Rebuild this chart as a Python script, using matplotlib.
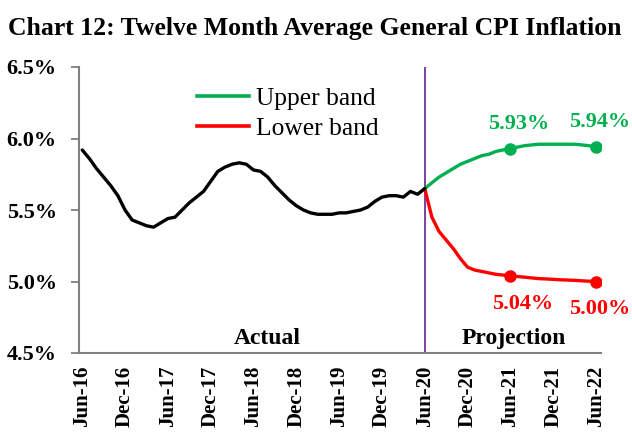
import matplotlib
matplotlib.use("Agg")
import matplotlib.pyplot as plt
from matplotlib.lines import Line2D

# ---- data ----
tick_labels = ["Jun-16", "Dec-16", "Jun-17", "Dec-17", "Jun-18", "Dec-18",
               "Jun-19", "Dec-19", "Jun-20", "Dec-20", "Jun-21", "Dec-21", "Jun-22"]

# monthly actual, Jun-16 .. Jun-20 (49 months)
actual = [5.92, 5.86, 5.79, 5.73, 5.67, 5.60, 5.50, 5.43, 5.41, 5.39,
          5.38, 5.41, 5.44, 5.45, 5.50, 5.55, 5.59, 5.63, 5.70, 5.77,
          5.80, 5.82, 5.83, 5.82, 5.78, 5.77, 5.73, 5.67, 5.62, 5.57,
          5.53, 5.50, 5.48, 5.47, 5.47, 5.47, 5.48, 5.48, 5.49, 5.50,
          5.52, 5.56, 5.59, 5.60, 5.60, 5.59, 5.63, 5.61, 5.65]

# monthly projections, Jun-20 .. Jun-22 (25 months)
upper = [5.65, 5.69, 5.73, 5.76, 5.79, 5.82, 5.84, 5.86, 5.88, 5.89,
         5.91, 5.92, 5.93, 5.94, 5.95, 5.955, 5.96, 5.96, 5.96, 5.96,
         5.96, 5.96, 5.955, 5.95, 5.94]
lower = [5.65, 5.45, 5.35, 5.29, 5.23, 5.16, 5.10, 5.08, 5.07, 5.06,
         5.05, 5.045, 5.04, 5.035, 5.03, 5.025, 5.02, 5.018, 5.015, 5.012,
         5.01, 5.008, 5.005, 5.002, 5.00]

marker_months = [12, 24]          # offsets within projection (Jun-21, Jun-22)
upper_labels = ["5.93%", "5.94%"]
lower_labels = ["5.04%", "5.00%"]

GREEN = "#00B050"
RED = "#FF0000"
PURPLE = "#7030A0"
GREY = "#808080"

plt.rcParams["font.family"] = ["Liberation Serif", "DejaVu Serif"]

fig = plt.figure(figsize=(6.32, 4.32), dpi=100)
ax = fig.add_axes([79/632, 1-353/432, (601-79)/632, (353-67)/432])

n_act = len(actual)
x_act = list(range(n_act))
start = n_act - 1
x_proj = [start + i for i in range(len(upper))]

ax.plot(x_proj, upper, color=GREEN, lw=2.4, solid_capstyle="round", zorder=3)
ax.plot(x_proj, lower, color=RED, lw=2.4, solid_capstyle="round", zorder=3)
ax.plot(x_act, actual, color="black", lw=2.4, solid_capstyle="round", zorder=4)

up_off = [(8, 25), (4, 25)]
lo_off = [(12, -28), (4, -28)]
for k, i in enumerate(marker_months):
    ax.plot(x_proj[i], upper[i], "o", color=GREEN, ms=8, zorder=5)
    ax.plot(x_proj[i], lower[i], "o", color=RED, ms=8, zorder=5)
    ax.annotate(upper_labels[k], (x_proj[i], upper[i]), xytext=up_off[k],
                textcoords="offset pixels", ha="center", va="center",
                color=GREEN, fontsize=16, fontweight="bold", annotation_clip=False)
    ax.annotate(lower_labels[k], (x_proj[i], lower[i]), xytext=lo_off[k],
                textcoords="offset pixels", ha="center", va="center",
                color=RED, fontsize=16, fontweight="bold", annotation_clip=False)

ax.axvline(start, color=PURPLE, lw=1.3, zorder=2)

ax.text(26, 4.6, "Actual", ha="center", va="center", fontsize=17, fontweight="bold")
ax.text(60.5, 4.6, "Projection", ha="center", va="center", fontsize=17, fontweight="bold")

ax.set_xlim(-0.45, 72.7)
ax.set_ylim(4.5, 6.5)
ax.set_yticks([4.5, 5.0, 5.5, 6.0, 6.5])
ax.set_yticklabels([f"{v:.1f}%" for v in [4.5, 5.0, 5.5, 6.0, 6.5]],
                   fontsize=16, fontweight="bold")
ax.set_xticks(range(0, 73, 6))
ax.set_xticklabels(tick_labels, rotation=90, fontsize=15, fontweight="bold",
                   va="top", ha="center")
ax.tick_params(axis="x", length=0, pad=9)
ax.tick_params(axis="y", length=6, width=1.3, color=GREY, pad=10)

for s in ["top", "right"]:
    ax.spines[s].set_visible(False)
for s in ["left", "bottom"]:
    ax.spines[s].set_color(GREY)
    ax.spines[s].set_linewidth(1.5)

handles = [Line2D([], [], color=GREEN, lw=2.6), Line2D([], [], color=RED, lw=2.6)]
leg = ax.legend(handles, ["Upper band", "Lower band"], loc="upper left",
                bbox_to_anchor=(197/632, 1-87/432), bbox_transform=fig.transFigure,
                frameon=False, fontsize=18.4, handlelength=2.05, handletextpad=0.24,
                labelspacing=0.28, borderpad=0, borderaxespad=0)

fig.text(8/632, 1-28/432, "Chart 12: Twelve Month Average General CPI Inflation",
         ha="left", va="center", fontsize=18.5, fontweight="bold")

fig.savefig("out.png", dpi=100)
